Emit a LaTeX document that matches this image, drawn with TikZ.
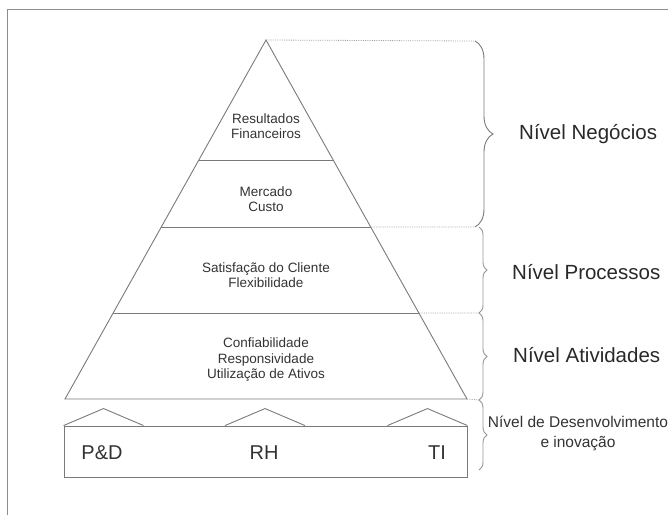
\documentclass[tikz,border=0pt]{standalone}
\usepackage{fontspec}
\setmainfont{Liberation Sans}
\usetikzlibrary{calc,decorations.pathreplacing}
\definecolor{linegray}{HTML}{7A7A7A}
\definecolor{txtgray}{HTML}{333333}
\definecolor{framegray}{HTML}{8C8C8C}
\tikzset{
  pline/.style={draw=linegray, line width=0.9pt},
  dotline/.style={draw=linegray!70, densely dotted, line width=0.8pt},
  ptext/.style={text=txtgray, font=\fontsize{13.5}{15.5}\selectfont, align=center, inner sep=0pt},
  lvltext/.style={text=txtgray!80!black, font=\fontsize{20.5}{22}\selectfont, inner sep=0pt},
  boxtext/.style={text=txtgray, font=\fontsize{20}{22}\selectfont, inner sep=0pt},
  bigbrace/.style={draw=linegray, line width=0.9pt, decorate, decoration={brace, amplitude=18pt}},
  smallbrace/.style={draw=linegray!80, line width=0.9pt, decorate, decoration={brace, amplitude=8pt}},
}
\begin{document}
\begin{tikzpicture}[x=1pt,y=-1pt]
\useasboundingbox (0,0) rectangle (668,515);
% frame
\coordinate (ftl) at (7,9);
\coordinate (ftr) at (668,9);
\coordinate (fbl) at (7,515);
\draw[framegray, line width=1pt] (fbl) -- (ftl) -- (ftr);
% pyramid
\coordinate (apex) at (266,40);
\coordinate (bl) at (65,399);
\coordinate (br) at (467,399);
\draw[pline, line join=miter] (apex) -- (bl) -- (br) -- cycle;
\coordinate (l1a) at ($(apex)!0.3343!(bl)$);
\coordinate (l1b) at ($(apex)!0.3343!(br)$);
\coordinate (l2a) at ($(apex)!0.5209!(bl)$);
\coordinate (l2b) at ($(apex)!0.5209!(br)$);
\coordinate (l3a) at ($(apex)!0.7604!(bl)$);
\coordinate (l3b) at ($(apex)!0.7604!(br)$);
\draw[pline] (l1a) -- (l1b);
\draw[pline] (l2a) -- (l2b);
\draw[pline] (l3a) -- (l3b);
% pyramid texts
\node[ptext] (t1) at (266,126) {Resultados\\Financeiros};
\node[ptext] (t2) at (266,199) {Mercado\\Custo};
\node[ptext] (t3) at (266,275) {Satisfação do Cliente\\Flexibilidade};
\node[ptext] (t4) at (266,360) {Confiabilidade\\Responsividade\\Utilização de Ativos};
% dotted guides
\coordinate (b1t) at (475,41);
\coordinate (b1b) at (475,227);
\coordinate (b2b) at (479,313);
\coordinate (b3b) at (479,400);
\coordinate (b4b) at (479,470);
\draw[dotline] (apex) -- (b1t);
\draw[dotline] (l2b) -- (b1b);
\draw[dotline] (l3b) -- (b2b);
\draw[dotline] (br) -- (b3b);
% braces
\draw[bigbrace] (b1t) -- (b1b);
\draw[smallbrace] ($(b1b)+(4,0)$) -- (b2b);
\draw[smallbrace] (b2b) -- (b3b);
\draw[smallbrace] (b3b) -- (b4b);
% level labels
\node[lvltext, anchor=west] (n1) at (519,134) {Nível Negócios};
\node[lvltext, anchor=west] (n2) at (512,272) {Nível Processos};
\node[lvltext, anchor=west] (n3) at (513,355) {Nível Atividades};
\node[text=txtgray, font=\fontsize{15.5}{20}\selectfont, align=center, inner sep=0pt] (n4) at (578,433) {Nível de Desenvolvimento\\e inovação};
% base box
\node[pline, draw, minimum width=403pt, minimum height=51pt, inner sep=0pt] (box) at (265.5,451.5) {};
\draw[pline] ($(box.north west)$) -- ++(40,-17) -- ++(40,17);
\draw[pline] ($(box.north)+(-40.5,0)$) -- ++(40,-17) -- ++(40,17);
\draw[pline] ($(box.north east)+(-80,0)$) -- ++(40,-17) -- ++(40,17);
\node[boxtext] (pd) at (102,453) {P\&D};
\node[boxtext] (rh) at (264,453) {RH};
\node[boxtext] (ti) at (437,453) {TI};
\end{tikzpicture}
\end{document}
